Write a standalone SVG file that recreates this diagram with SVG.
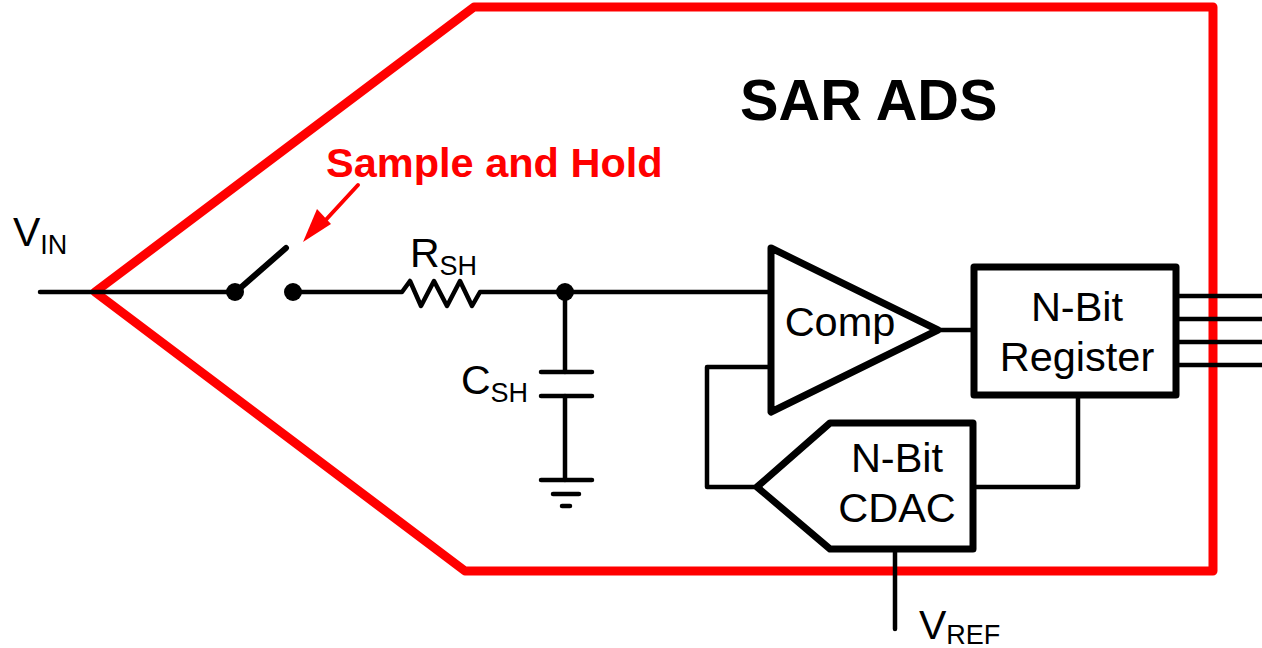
<svg xmlns="http://www.w3.org/2000/svg" width="1262" height="648" viewBox="0 0 1262 648">
<style>
text{font-family:"Liberation Sans",Arial,sans-serif;fill:#000}
.w{fill:none;stroke:#000;stroke-width:4.5;stroke-linecap:round;stroke-linejoin:round}
.b{fill:#fff;stroke:#000;stroke-width:7;stroke-linejoin:round}
.l{font-size:41.5px}
.v{font-size:41px}
.s{font-size:27px}
</style>
<rect width="1262" height="648" fill="#fff"/>
<g id="boundary"><path d="M95 292L474 7H1213V571H465Z" fill="none" stroke="#f00" stroke-width="9" stroke-linejoin="round"/></g>
<g id="connectors">
<path class="w" d="M40 292H235M293 292H402L410 281L421 306L434 281L447 306L460 281L472 306L480 292H565M565 292V372M565 396V480M565 292H771"/>
<path class="w" d="M771 367H707V487H757M938 330H974M973 487H1078V395M895 549V629"/>
<path class="w" d="M1176 296H1262M1176 319H1262M1176 342H1262M1176 365H1262"/>
<path d="M238 290L286 248" fill="none" stroke="#000" stroke-width="6" stroke-linecap="round"/>
<path d="M358 185L322 224" fill="none" stroke="#f00" stroke-width="4" stroke-linecap="round"/>
<path d="M303 242L317 209L331 224Z" fill="#f00"/>
</g>
<g id="switch"><circle cx="235" cy="292" r="9"/><circle cx="293" cy="292" r="9"/></g>
<g id="junction"><circle cx="565" cy="292" r="9"/></g>
<g id="capacitor"><path class="w" d="M541 372H592M541 396H592"/></g>
<g id="ground"><path class="w" d="M541 480H592M553 494H579M562 506H570"/></g>
<g id="comp"><path class="b" d="M771 248L938 330L771 412Z"/><text class="l" x="840" y="336" text-anchor="middle">Comp</text></g>
<g id="register"><rect class="b" x="974" y="267" width="202" height="128"/><text class="l" x="1077" y="321" text-anchor="middle">N-Bit</text><text class="l" x="1077" y="371" text-anchor="middle">Register</text></g>
<g id="cdac"><path class="b" d="M757 487L830 423H973V549H830Z"/><text class="l" x="897" y="472" text-anchor="middle">N-Bit</text><text class="l" x="897" y="522" text-anchor="middle">CDAC</text></g>
<text x="740" y="120" font-size="57.7" font-weight="700">SAR ADS</text>
<text x="326" y="177" font-size="41.5" font-weight="700" style="fill:#f00">Sample and Hold</text>
<text class="v" x="13" y="246">V<tspan class="s" dy="8">IN</tspan></text>
<text class="v" x="410" y="267">R<tspan class="s" dy="8">SH</tspan></text>
<text class="v" x="461" y="394">C<tspan class="s" dy="8">SH</tspan></text>
<text class="v" x="919" y="639">V<tspan class="s" dy="5">REF</tspan></text>
</svg>
